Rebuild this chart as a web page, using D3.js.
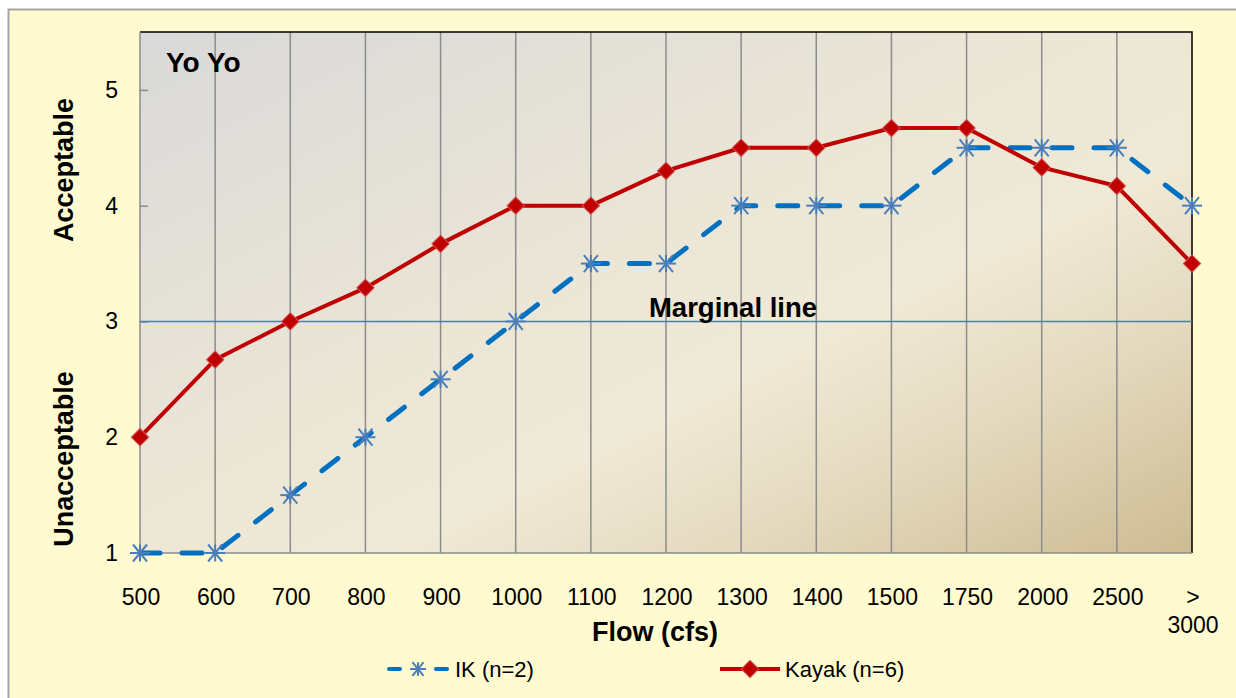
<!DOCTYPE html>
<html>
<head>
<meta charset="utf-8">
<script src="https://cdn.jsdelivr.net/npm/d3@7"></script>
<style>
  body { margin: 0; background: #fff; }
  svg { display: block; font-family: 'Liberation Sans', Arial, sans-serif; }
</style>
</head>
<body>
<div id="chart"></div>
<script>
const flows = ['500', '600', '700', '800', '900', '1000', '1100', '1200', '1300', '1400', '1500', '1750', '2000', '2500', '> 3000'];
const ikValues = [1, 1, 1.5, 2, 2.5, 3, 3.5, 3.5, 4, 4, 4, 4.5, 4.5, 4.5, 4];
const kayakValues = [2, 2.67, 3, 3.29, 3.67, 4, 4, 4.3, 4.5, 4.5, 4.67, 4.67, 4.33, 4.17, 3.5];
const yTicks = [1, 2, 3, 4, 5];
const marginal = 3;

const width = 1236;
const height = 698;
const plotLeft = 140, plotRight = 1192, plotTop = 32, plotBottom = 553;

const svg = d3.select('#chart')
              .append('svg')
              .attr('width', width)
              .attr('height', height);

// outer panel
svg.append('rect')
   .attr('x', 8.5).attr('y', 9.5)
   .attr('width', 1240).attr('height', 700)
   .attr('fill', '#FFFACF')
   .attr('stroke', '#A6A6A6')
   .attr('stroke-width', 2);

const defs = svg.append('defs');
const grad = defs.append('linearGradient')
                 .attr('id', 'plotbg')
                 .attr('x1', 0).attr('y1', 0)
                 .attr('x2', 1).attr('y2', 1);
grad.append('stop').attr('offset', '0%').attr('stop-color', '#D9D9D9');
grad.append('stop').attr('offset', '45%').attr('stop-color', '#ECE6D6');
grad.append('stop').attr('offset', '62%').attr('stop-color', '#EFE9D6');
grad.append('stop').attr('offset', '78%').attr('stop-color', '#E4D9BE');
grad.append('stop').attr('offset', '100%').attr('stop-color', '#CDBB92');

const x = d3.scalePoint()
            .domain(flows)
            .range([plotLeft, plotRight]);

const y = d3.scaleLinear()
            .domain([1, 5.5])
            .range([plotBottom, plotTop]);

svg.append('rect')
   .attr('x', plotLeft).attr('y', plotTop)
   .attr('width', plotRight - plotLeft).attr('height', plotBottom - plotTop)
   .attr('fill', 'url(#plotbg)');

// vertical gridlines
svg.append('g')
   .selectAll('line')
   .data(flows.slice(1, -1))
   .enter()
   .append('line')
   .attr('x1', d => x(d)).attr('x2', d => x(d))
   .attr('y1', plotTop).attr('y2', plotBottom)
   .attr('stroke', '#8C8C8C')
   .attr('stroke-width', 1.5);

// frame
svg.append('path')
   .attr('d', `M${plotLeft},${plotTop}H${plotRight}V${plotBottom}`)
   .attr('fill', 'none')
   .attr('stroke', '#000')
   .attr('stroke-width', 1.5);
svg.append('path')
   .attr('d', `M${plotLeft},${plotTop}V${plotBottom}H${plotRight}`)
   .attr('fill', 'none')
   .attr('stroke', '#8C8C8C')
   .attr('stroke-width', 1.5);

// y axis ticks (inward)
const yAxis = d3.axisRight(y)
                .tickValues(yTicks)
                .tickSize(8)
                .tickFormat('');
svg.append('g')
   .attr('transform', 'translate(' + plotLeft + ',0)')
   .call(yAxis)
   .call(g => g.select('.domain').remove())
   .call(g => g.selectAll('.tick line').attr('stroke', '#8C8C8C').attr('stroke-width', 1.5));

svg.append('g')
   .selectAll('text')
   .data(yTicks)
   .enter()
   .append('text')
   .attr('x', 118)
   .attr('y', d => y(d) + 8)
   .attr('text-anchor', 'end')
   .attr('font-size', 23)
   .attr('fill', '#000')
   .text(d => d);

// x tick labels
const xLabels = svg.append('g');
flows.forEach(f => {
  const parts = f.indexOf('>') === 0 ? ['>', f.slice(2)] : [f];
  const t = xLabels.append('text')
                   .attr('x', x(f))
                   .attr('y', 605)
                   .attr('text-anchor', 'middle')
                   .attr('font-size', 23)
                   .attr('fill', '#000');
  parts.forEach((p, i) => {
    t.append('tspan').attr('x', x(f) + 1).attr('dy', i ? 28 : 0).text(p);
  });
});

// marginal line
svg.append('line')
   .attr('x1', plotLeft).attr('x2', plotRight)
   .attr('y1', y(marginal)).attr('y2', y(marginal))
   .attr('stroke', '#4A7EBB')
   .attr('stroke-width', 1.5);

svg.append('text')
   .attr('x', 733).attr('y', 317)
   .attr('text-anchor', 'middle')
   .attr('font-size', 27.5)
   .attr('font-weight', 'bold')
   .text('Marginal line');

const line = d3.line()
               .x((d, i) => x(flows[i]))
               .y(d => y(d));

// IK series
svg.append('path')
   .datum(ikValues)
   .attr('d', line)
   .attr('fill', 'none')
   .attr('stroke', '#0070C0')
   .attr('stroke-width', 5)
   .attr('stroke-linecap', 'round')
   .attr('stroke-dasharray', '20 22');

const star = (g, cx, cy, r) => {
  const s = g.append('g').attr('transform', `translate(${cx},${cy})`)
             .attr('stroke', '#4A7EBB').attr('stroke-width', 2);
  s.append('line').attr('x1', -r).attr('x2', r).attr('y1', 0).attr('y2', 0);
  s.append('line').attr('x1', -r * 0.7).attr('x2', r * 0.7).attr('y1', -r * 0.85).attr('y2', r * 0.85);
  s.append('line').attr('x1', r * 0.7).attr('x2', -r * 0.7).attr('y1', -r * 0.85).attr('y2', r * 0.85);
  s.append('line').attr('x1', 0).attr('x2', 0).attr('y1', -r * 0.85).attr('y2', r * 0.85);
};

const ikMarks = svg.append('g');
ikValues.forEach((v, i) => star(ikMarks, x(flows[i]), y(v), 10));

// Kayak series
svg.append('path')
   .datum(kayakValues)
   .attr('d', line)
   .attr('fill', 'none')
   .attr('stroke', '#C00000')
   .attr('stroke-width', 4);

const diamond = d3.symbol().type(d3.symbolSquare).size(150);
svg.append('g')
   .selectAll('path')
   .data(kayakValues)
   .enter()
   .append('path')
   .attr('d', diamond)
   .attr('transform', (d, i) => `translate(${x(flows[i])},${y(d)}) rotate(45)`)
   .attr('fill', '#C00000')
   .attr('stroke', '#D05050')
   .attr('stroke-width', 1);

// titles
svg.append('text')
   .attr('x', 166).attr('y', 72)
   .attr('font-size', 28)
   .attr('font-weight', 'bold')
   .text('Yo Yo');

svg.append('text')
   .attr('x', 655).attr('y', 641)
   .attr('text-anchor', 'middle')
   .attr('font-size', 27)
   .attr('font-weight', 'bold')
   .text('Flow (cfs)');

svg.append('text')
   .attr('transform', 'translate(73,170) rotate(-90)')
   .attr('text-anchor', 'middle')
   .attr('font-size', 27)
   .attr('font-weight', 'bold')
   .text('Acceptable');

svg.append('text')
   .attr('transform', 'translate(73,459) rotate(-90)')
   .attr('text-anchor', 'middle')
   .attr('font-size', 27)
   .attr('font-weight', 'bold')
   .text('Unacceptable');

// legend
const lg = svg.append('g');
lg.append('line').attr('x1', 389).attr('x2', 400).attr('y1', 669).attr('y2', 669)
  .attr('stroke', '#0070C0').attr('stroke-width', 4).attr('stroke-linecap', 'round');
lg.append('line').attr('x1', 436).attr('x2', 447).attr('y1', 669).attr('y2', 669)
  .attr('stroke', '#0070C0').attr('stroke-width', 4).attr('stroke-linecap', 'round');
star(lg, 418, 669, 8);
lg.append('text').attr('x', 455).attr('y', 677).attr('font-size', 22).text('IK (n=2)');

lg.append('line').attr('x1', 720).attr('x2', 780).attr('y1', 669).attr('y2', 669)
  .attr('stroke', '#C00000').attr('stroke-width', 4);
lg.append('path').attr('d', diamond)
  .attr('transform', 'translate(750,669) rotate(45)')
  .attr('fill', '#C00000').attr('stroke', '#D05050');
lg.append('text').attr('x', 785).attr('y', 677).attr('font-size', 22).text('Kayak (n=6)');
</script>
</body>
</html>
